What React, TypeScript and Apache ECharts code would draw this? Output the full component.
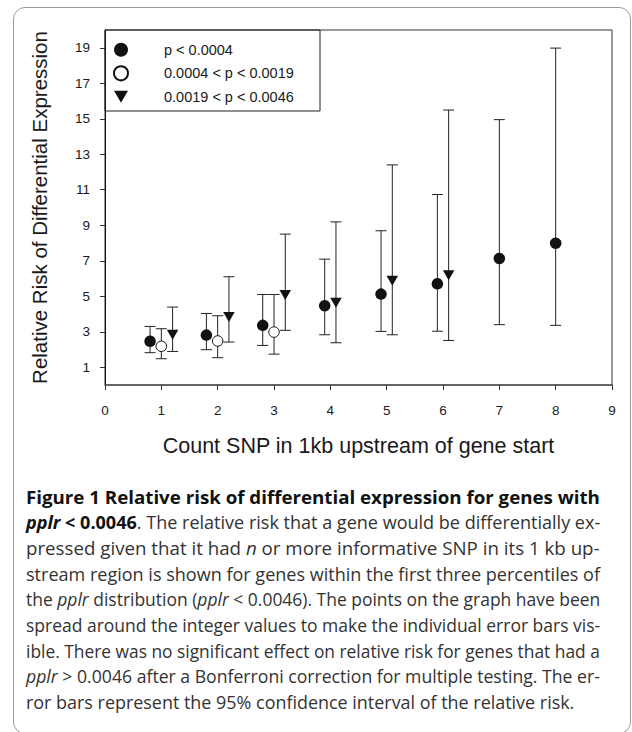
import React, { useEffect, useRef } from "react";
import * as echarts from "echarts";

// ---------- data ----------
const seriesNames = ["p < 0.0004", "0.0004 < p < 0.0019", "0.0019 < p < 0.0046"];

const filledX = [0.8, 1.8, 2.8, 3.9, 4.9, 5.9, 7.0, 8.0];
const filledY = [2.46, 2.81, 3.36, 4.47, 5.12, 5.70, 7.13, 7.99];
const filledLow = [1.82, 1.99, 2.23, 2.83, 3.02, 3.03, 3.40, 3.36];
const filledHigh = [3.30, 4.03, 5.10, 7.09, 8.69, 10.73, 14.95, 18.98];

const openX = [1.0, 2.0, 3.0];
const openY = [2.18, 2.48, 2.98];
const openLow = [1.48, 1.54, 1.74];
const openHigh = [3.17, 3.90, 5.10];

const triX = [1.2, 2.2, 3.2, 4.1, 5.1, 6.1];
const triY = [2.83, 3.83, 5.07, 4.63, 5.87, 6.19];
const triLow = [1.89, 2.42, 3.08, 2.38, 2.83, 2.51];
const triHigh = [4.39, 6.10, 8.50, 9.19, 12.40, 15.49];

const yTickValues = [1, 3, 5, 7, 9, 11, 13, 15, 17, 19];
const xTickValues = [0, 1, 2, 3, 4, 5, 6, 7, 8, 9];

const xTitle = "Count SNP in 1kb upstream of gene start";
const yTitle = "Relative Risk of Differential Expression";

type Seg = { t: string; b?: boolean; i?: boolean };
const captionLines: Seg[][] = [
  [{ t: "Figure 1 Relative risk of differential expression for genes with", b: true }],
  [
    { t: "pplr", b: true, i: true },
    { t: " < 0.0046", b: true },
    { t: ". The relative risk that a gene would be differentially ex-" },
  ],
  [
    { t: "pressed given that it had " },
    { t: "n", i: true },
    { t: " or more informative SNP in its 1 kb up-" },
  ],
  [{ t: "stream region is shown for genes within the first three percentiles of" }],
  [
    { t: "the " },
    { t: "pplr", i: true },
    { t: " distribution (" },
    { t: "pplr", i: true },
    { t: " < 0.0046). The points on the graph have been" },
  ],
  [{ t: "spread around the integer values to make the individual error bars vis-" }],
  [{ t: "ible. There was no significant effect on relative risk for genes that had a" }],
  [
    { t: "pplr", i: true },
    { t: " > 0.0046 after a Bonferroni correction for multiple testing. The er-" },
  ],
  [{ t: "ror bars represent the 95% confidence interval of the relative risk." }],
];

const FONT = "'Liberation Sans', Arial, Helvetica, sans-serif";
const INK = "#1a1a1a";
const DOWN_TRIANGLE = "path://M0,0L12,0L6,10.4Z";

function errorSeries(xs: number[], lows: number[], highs: number[]) {
  return {
    type: "custom",
    z: 1,
    silent: true,
    data: xs.map((x, i) => [x, lows[i], highs[i]]),
    encode: { x: 0, y: [1, 2] },
    renderItem: (_params: any, api: any) => {
      const x = api.value(0);
      const lo = api.coord([x, api.value(1)]);
      const hi = api.coord([x, api.value(2)]);
      const hw = 5.5;
      const style = { stroke: "#222", lineWidth: 1, fill: "none" };
      return {
        type: "group",
        children: [
          { type: "line", shape: { x1: lo[0], y1: lo[1], x2: hi[0], y2: hi[1] }, style },
          { type: "line", shape: { x1: lo[0] - hw, y1: lo[1], x2: lo[0] + hw, y2: lo[1] }, style },
          { type: "line", shape: { x1: hi[0] - hw, y1: hi[1], x2: hi[0] + hw, y2: hi[1] }, style },
        ],
      };
    },
  };
}

export default function App() {
  const chartRef = useRef<HTMLDivElement>(null);
  const lineRefs = useRef<(HTMLSpanElement | null)[]>([]);

  useEffect(() => {
    if (!chartRef.current) return;
    const chart = echarts.init(chartRef.current, undefined, { renderer: "svg" });
    const option: any = {
      animation: false,
      textStyle: { fontFamily: FONT },
      grid: {
        left: 105,
        top: 30,
        width: 507,
        height: 355,
        show: true,
        borderColor: "#333",
        borderWidth: 1,
      },
      xAxis: {
        type: "value",
        min: 0,
        max: 9,
        interval: 1,
        name: xTitle,
        nameLocation: "middle",
        nameGap: 50,
        nameTextStyle: { fontSize: 21.5, color: INK, fontFamily: FONT },
        axisLine: { show: true, lineStyle: { color: "#555", width: 1.5 } },
        axisTick: { show: true, length: 5, inside: false, customValues: xTickValues, lineStyle: { color: "#333" } },
        axisLabel: { fontSize: 13.5, color: INK, margin: 18, customValues: xTickValues },
        splitLine: { show: false },
      },
      yAxis: {
        type: "value",
        min: 0,
        max: 20,
        interval: 1,
        name: yTitle,
        nameLocation: "middle",
        nameGap: 55,
        nameTextStyle: { fontSize: 20.5, color: INK, fontFamily: FONT },
        axisLine: { show: true, lineStyle: { color: "#111", width: 1 } },
        axisTick: { show: true, length: 5, inside: false, customValues: yTickValues, lineStyle: { color: "#333" } },
        axisLabel: {
          fontSize: 13.5,
          color: INK,
          margin: 15,
          customValues: yTickValues,
          formatter: (v: number) => (v % 2 === 1 ? String(v) : ""),
        },
        splitLine: { show: false },
      },
      legend: {
        data: [
          { name: seriesNames[0], icon: "circle" },
          { name: seriesNames[1], icon: "circle" },
          { name: seriesNames[2], icon: DOWN_TRIANGLE },
        ],
        orient: "vertical",
        left: 113,
        top: 42.3,
        padding: 0,
        itemWidth: 14,
        itemHeight: 14,
        itemGap: 8,
        selectedMode: false,
        textStyle: { fontSize: 14.5, color: INK, fontFamily: FONT, lineHeight: 14, padding: [0, 0, 0, 31] },
      },
      graphic: [
        {
          type: "rect",
          z: 10,
          silent: true,
          shape: { x: 105, y: 30, width: 215, height: 81 },
          style: { fill: "none", stroke: "#222", lineWidth: 1 },
        },
      ],
      series: [
        errorSeries(filledX, filledLow, filledHigh),
        errorSeries(openX, openLow, openHigh),
        errorSeries(triX, triLow, triHigh),
        {
          name: seriesNames[0],
          type: "scatter",
          z: 3,
          symbol: "circle",
          symbolSize: 11.5,
          itemStyle: { color: "#111", opacity: 1 },
          data: filledX.map((x, i) => [x, filledY[i]]),
        },
        {
          name: seriesNames[1],
          type: "scatter",
          z: 3,
          symbol: "circle",
          symbolSize: 10.5,
          itemStyle: { color: "#fff", borderColor: "#111", borderWidth: 1, opacity: 1 },
          data: openX.map((x, i) => [x, openY[i]]),
        },
        {
          name: seriesNames[2],
          type: "scatter",
          z: 3,
          symbol: DOWN_TRIANGLE,
          symbolSize: [11.5, 10],
          itemStyle: { color: "#111", opacity: 1 },
          data: triX.map((x, i) => [x, triY[i]]),
        },
      ],
    };
    chart.setOption(option);
    return () => chart.dispose();
  }, []);

  useEffect(() => {
    const fit = () => {
      const target = 574;
      const els = lineRefs.current;
      const scales: number[] = [];
      els.forEach((el, idx) => {
        if (!el) return;
        el.style.transform = "none";
        const w = el.offsetWidth;
        if (idx < els.length - 1 && w > 0) scales.push(target / w);
      });
      const avg = scales.length ? scales.reduce((a, b) => a + b, 0) / scales.length : 1;
      els.forEach((el, idx) => {
        if (!el) return;
        const w = el.offsetWidth;
        const s = idx < els.length - 1 && w > 0 ? target / w : avg;
        el.style.transform = `scaleX(${s})`;
      });
    };
    fit();
    if ((document as any).fonts && (document as any).fonts.ready) {
      (document as any).fonts.ready.then(fit);
    }
  }, []);

  return (
    <div
      style={{
        position: "fixed",
        left: 0,
        top: 0,
        width: 632,
        height: 732,
        background: "#fff",
        overflow: "hidden",
      }}
    >
      <div
        style={{
          position: "absolute",
          left: 13,
          top: 7,
          width: 618,
          height: 727,
          border: "1.2px solid #9a9a9a",
          borderRadius: 12,
          boxSizing: "border-box",
        }}
      />
      <div ref={chartRef} style={{ position: "absolute", left: 0, top: 0, width: 632, height: 732 }} />
      <div
        style={{
          position: "absolute",
          left: 26,
          top: 484.5,
          width: 580,
          fontFamily: "'Open Sans', 'Noto Sans', sans-serif",
          fontSize: 18,
          lineHeight: "25.7px",
          color: "#333",
        }}
      >
        {captionLines.map((segs, li) => (
          <div key={li} style={{ height: 25.7, whiteSpace: "nowrap" }}>
            <span
              ref={(el) => {
                lineRefs.current[li] = el;
              }}
              style={{ display: "inline-block", transformOrigin: "0 0", whiteSpace: "nowrap" }}
            >
              {segs.map((s, si) => (
                <span
                  key={si}
                  style={{
                    fontWeight: s.b ? 700 : 400,
                    fontStyle: s.i ? "italic" : "normal",
                    color: s.b ? "#111" : "#333",
                  }}
                >
                  {s.t}
                </span>
              ))}
            </span>
          </div>
        ))}
      </div>
    </div>
  );
}
